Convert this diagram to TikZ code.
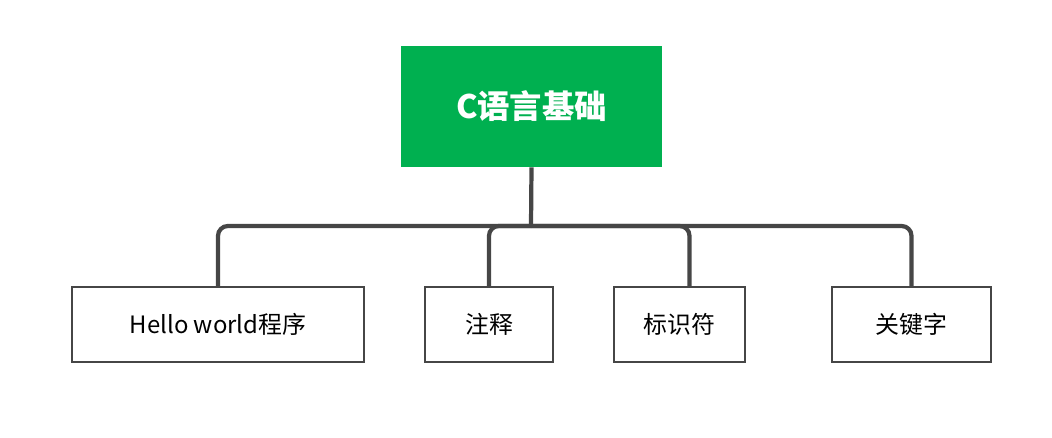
\documentclass[tikz,border=0pt]{standalone}
\usepackage{fontspec}
\setmainfont{Noto Sans CJK SC}
\definecolor{rootgreen}{RGB}{0,176,80}
\definecolor{linegray}{RGB}{70,70,70}
\tikzset{
  topic/.style = {fill=rootgreen,text=white,font=\fontsize{23}{27}\selectfont\bfseries,
    minimum width=261*0.025cm,minimum height=121*0.025cm,inner sep=0pt},
  subtopic/.style = {draw=linegray,line width=1.5pt,fill=white,font=\fontsize{17}{20}\selectfont,
    minimum height=75*0.025cm,inner sep=0pt},
  branch/.style = {draw=linegray,line width=3pt,rounded corners=7pt}
}
\begin{document}
\begin{tikzpicture}[x=0.025cm,y=-0.025cm]
  \useasboundingbox (0,0) rectangle (1052,438);
  % boxes
  \node[topic] (root) at (531.5,106.5) {C语言基础};
  \node[subtopic,minimum width=292*0.025cm] (hello) at (218,324.5) {Hello world程序};
  \node[subtopic,minimum width=128*0.025cm] (note)  at (489,324.5) {注释};
  \node[subtopic,minimum width=131*0.025cm] (ident) at (679.5,324.5) {标识符};
  \node[subtopic,minimum width=159*0.025cm] (kword) at (911.5,324.5) {关键字};
  \coordinate (bus) at (531,226);
  % connectors
  \draw[branch] (root.south) -- (bus);
  \foreach \c in {hello,note,kword} {
    \draw[branch] (bus) -| (\c.north);
  }
  \draw[branch] (bus) -| ([xshift=10*0.025cm]ident.north);
\end{tikzpicture}
\end{document}
